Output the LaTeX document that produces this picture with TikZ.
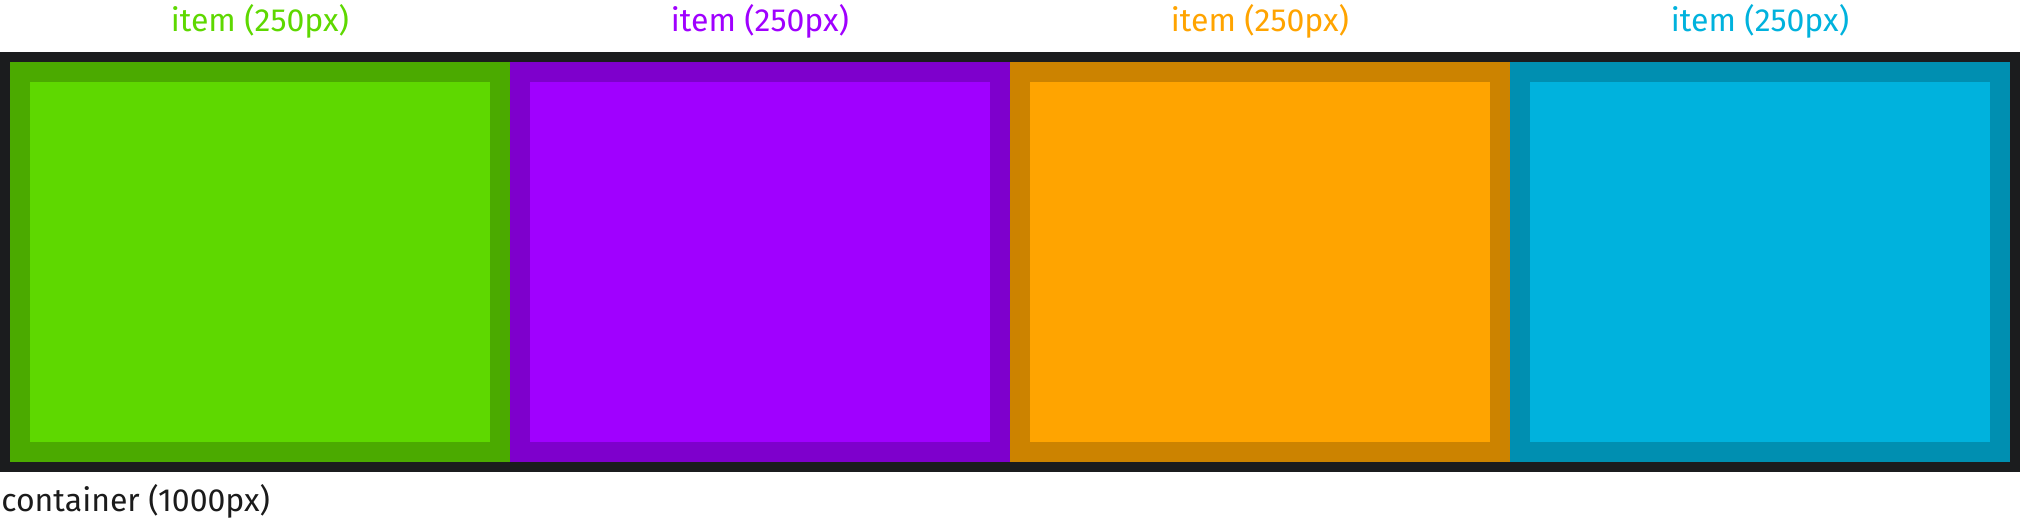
\documentclass[tikz,border=0pt]{standalone}
\usepackage{fontspec}
\setmainfont{Fira Sans}
\definecolor{frame}{HTML}{1B1C1E}
\definecolor{gin}{HTML}{5ED800}
\definecolor{gout}{HTML}{4BAA00}
\definecolor{pin}{HTML}{A000FF}
\definecolor{pout}{HTML}{7E00CC}
\definecolor{oin}{HTML}{FFA400}
\definecolor{oout}{HTML}{CC8300}
\definecolor{bin}{HTML}{00B2DD}
\definecolor{bout}{HTML}{008FB1}
\definecolor{lbl}{HTML}{1B1B1B}
\begin{document}
\begin{tikzpicture}[x=0.5pt,y=-0.5pt,
  lab/.style={inner sep=0pt,anchor=base,font=\fontsize{16pt}{19pt}\selectfont}]
\useasboundingbox (0,0) rectangle (2020,518);
\fill[white] (0,0) rectangle (2020,518);
\node[fill=frame,inner sep=0pt,minimum width=1010pt,minimum height=210pt,anchor=north west] (container) at (0,52) {};
\foreach \i/\ci/\co in {0/gin/gout,1/pin/pout,2/oin/oout,3/bin/bout}{
  \node[fill=\co,inner sep=0pt,minimum width=250pt,minimum height=200pt,anchor=north west] (item\i) at ({10+500*\i},62) {};
  \node[fill=\ci,inner sep=0pt,minimum width=230pt,minimum height=180pt] (inner\i) at (item\i.center) {};
  \node[lab,text=\ci] (label\i) at ({260+500*\i},32) {item (250px)};
}
\node[lab,anchor=base west,text=lbl] (clabel) at (1,511) {container (1000px)};
\end{tikzpicture}
\end{document}
